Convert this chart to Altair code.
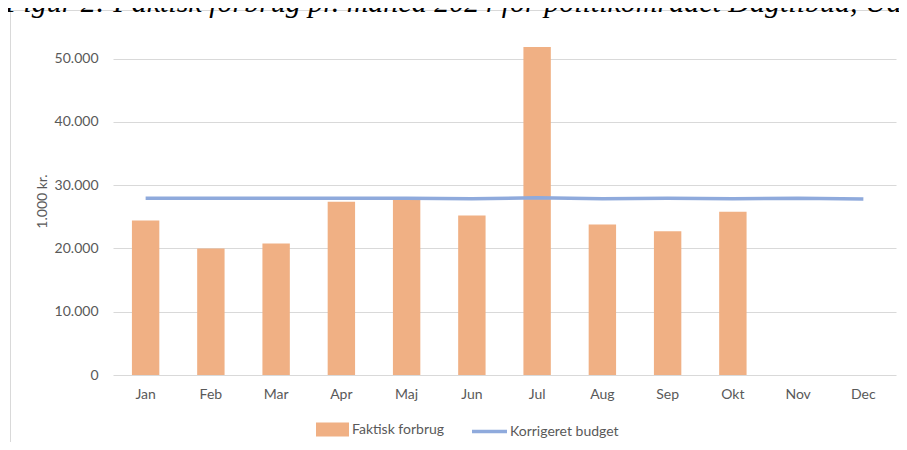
import altair as alt
import pandas as pd

# ---- data ----
months = ["Jan", "Feb", "Mar", "Apr", "Maj", "Jun", "Jul", "Aug", "Sep", "Okt", "Nov", "Dec"]
faktisk = [24400, 20000, 20800, 27400, 27900, 25200, 51850, 23800, 22700, 25800, None, None]
budget = [27950, 27950, 27950, 27950, 27950, 27850, 28000, 27850, 27950, 27850, 27950, 27800]
y_ticks = [0, 10000, 20000, 30000, 40000, 50000]
title_text = "Figur 2: Faktisk forbrug pr. måned 2024 for politikområdet Dagtilbud, Udda"

BAR = "#F0B084"
LINE = "#8FAADC"
GREY = "#595959"
GRID = "#D9D9D9"
FONT = "Lato"

df = pd.DataFrame({
    "Måned": months,
    "Faktisk forbrug": faktisk,
    "Korrigeret budget": budget,
    "s_bar": ["Faktisk forbrug"] * len(months),
    "s_line": ["Korrigeret budget"] * len(months),
})

x = alt.X(
    "Måned:N", sort=months,
    scale=alt.Scale(paddingInner=0.58, paddingOuter=0.29),
    axis=alt.Axis(title=None, labelAngle=0, ticks=False, domain=False, grid=False,
                  labelPadding=12, labelFont=FONT, labelFontSize=14, labelColor=GREY),
)
yscale = alt.Scale(domain=[0, 55000], nice=False, zero=True)

bars = alt.Chart(df).mark_bar().encode(
    x=x,
    y=alt.Y("Faktisk forbrug:Q", scale=yscale,
            axis=alt.Axis(values=y_ticks, title="1.000 kr.", ticks=False, domain=False,
                          grid=True, gridColor=GRID, gridWidth=1,
                          labelExpr="replace(format(datum.value, ',d'), ',', '.')",
                          labelPadding=15, labelFont=FONT, labelFontSize=14, labelColor=GREY,
                          titleFont=FONT, titleFontSize=14, titleColor=GREY, titleFontWeight="normal",
                          titleAngle=-90, titleX=-71, titleY=174, titleAlign="center",
                          titleBaseline="middle")),
    color=alt.Color("s_bar:N", scale=alt.Scale(domain=["Faktisk forbrug"], range=[BAR]),
                    legend=alt.Legend(title=None, orient="none", legendX=203, legendY=386,
                                      symbolType="M-1,-0.42L1,-0.42L1,0.42L-1,0.42Z",
                                      symbolSize=1089, symbolStrokeWidth=0, symbolOpacity=1,
                                      labelOffset=3, labelFont=FONT, labelFontSize=14,
                                      labelColor=GREY)),
)

line = alt.Chart(df).mark_line(strokeWidth=3.5).encode(
    x=x,
    y=alt.Y("Korrigeret budget:Q", scale=yscale),
    stroke=alt.Stroke("s_line:N", scale=alt.Scale(domain=["Korrigeret budget"], range=[LINE]),
                      legend=alt.Legend(title=None, orient="none", legendX=357, legendY=385,
                                        symbolType="stroke", symbolSize=1225,
                                        symbolStrokeWidth=3.5, labelOffset=1,
                                        labelFont=FONT, labelFontSize=14, labelColor=GREY)),
)

one = alt.Data(values=[{"t": title_text}])

frame_left = alt.Chart(one).mark_rule(color=GRID, strokeWidth=1).encode(
    x=alt.value(-102.5), y=alt.value(-17), y2=alt.value(424))
frame_top = alt.Chart(one).mark_rule(color=GRID, strokeWidth=1).encode(
    x=alt.value(-102.5), x2=alt.value(796), y=alt.value(-16.5))

title = alt.Chart(one).mark_text(align="left", baseline="alphabetic", font="Liberation Serif",
                                 fontStyle="italic", fontSize=30, color="black").encode(
    x=alt.value(-108), y=alt.value(-15), text="t:N")

chart = alt.layer(frame_left, frame_top, title, bars, line).resolve_scale(
    color="independent", stroke="independent"
).properties(
    width=783, height=348,
    autosize=alt.AutoSizeParams(type="none"),
    padding={"left": 105, "top": 19, "right": 3, "bottom": 67},
    background="white",
).configure_view(stroke=None)

chart.save("out.html", embed_options={"renderer": "svg", "actions": False})
